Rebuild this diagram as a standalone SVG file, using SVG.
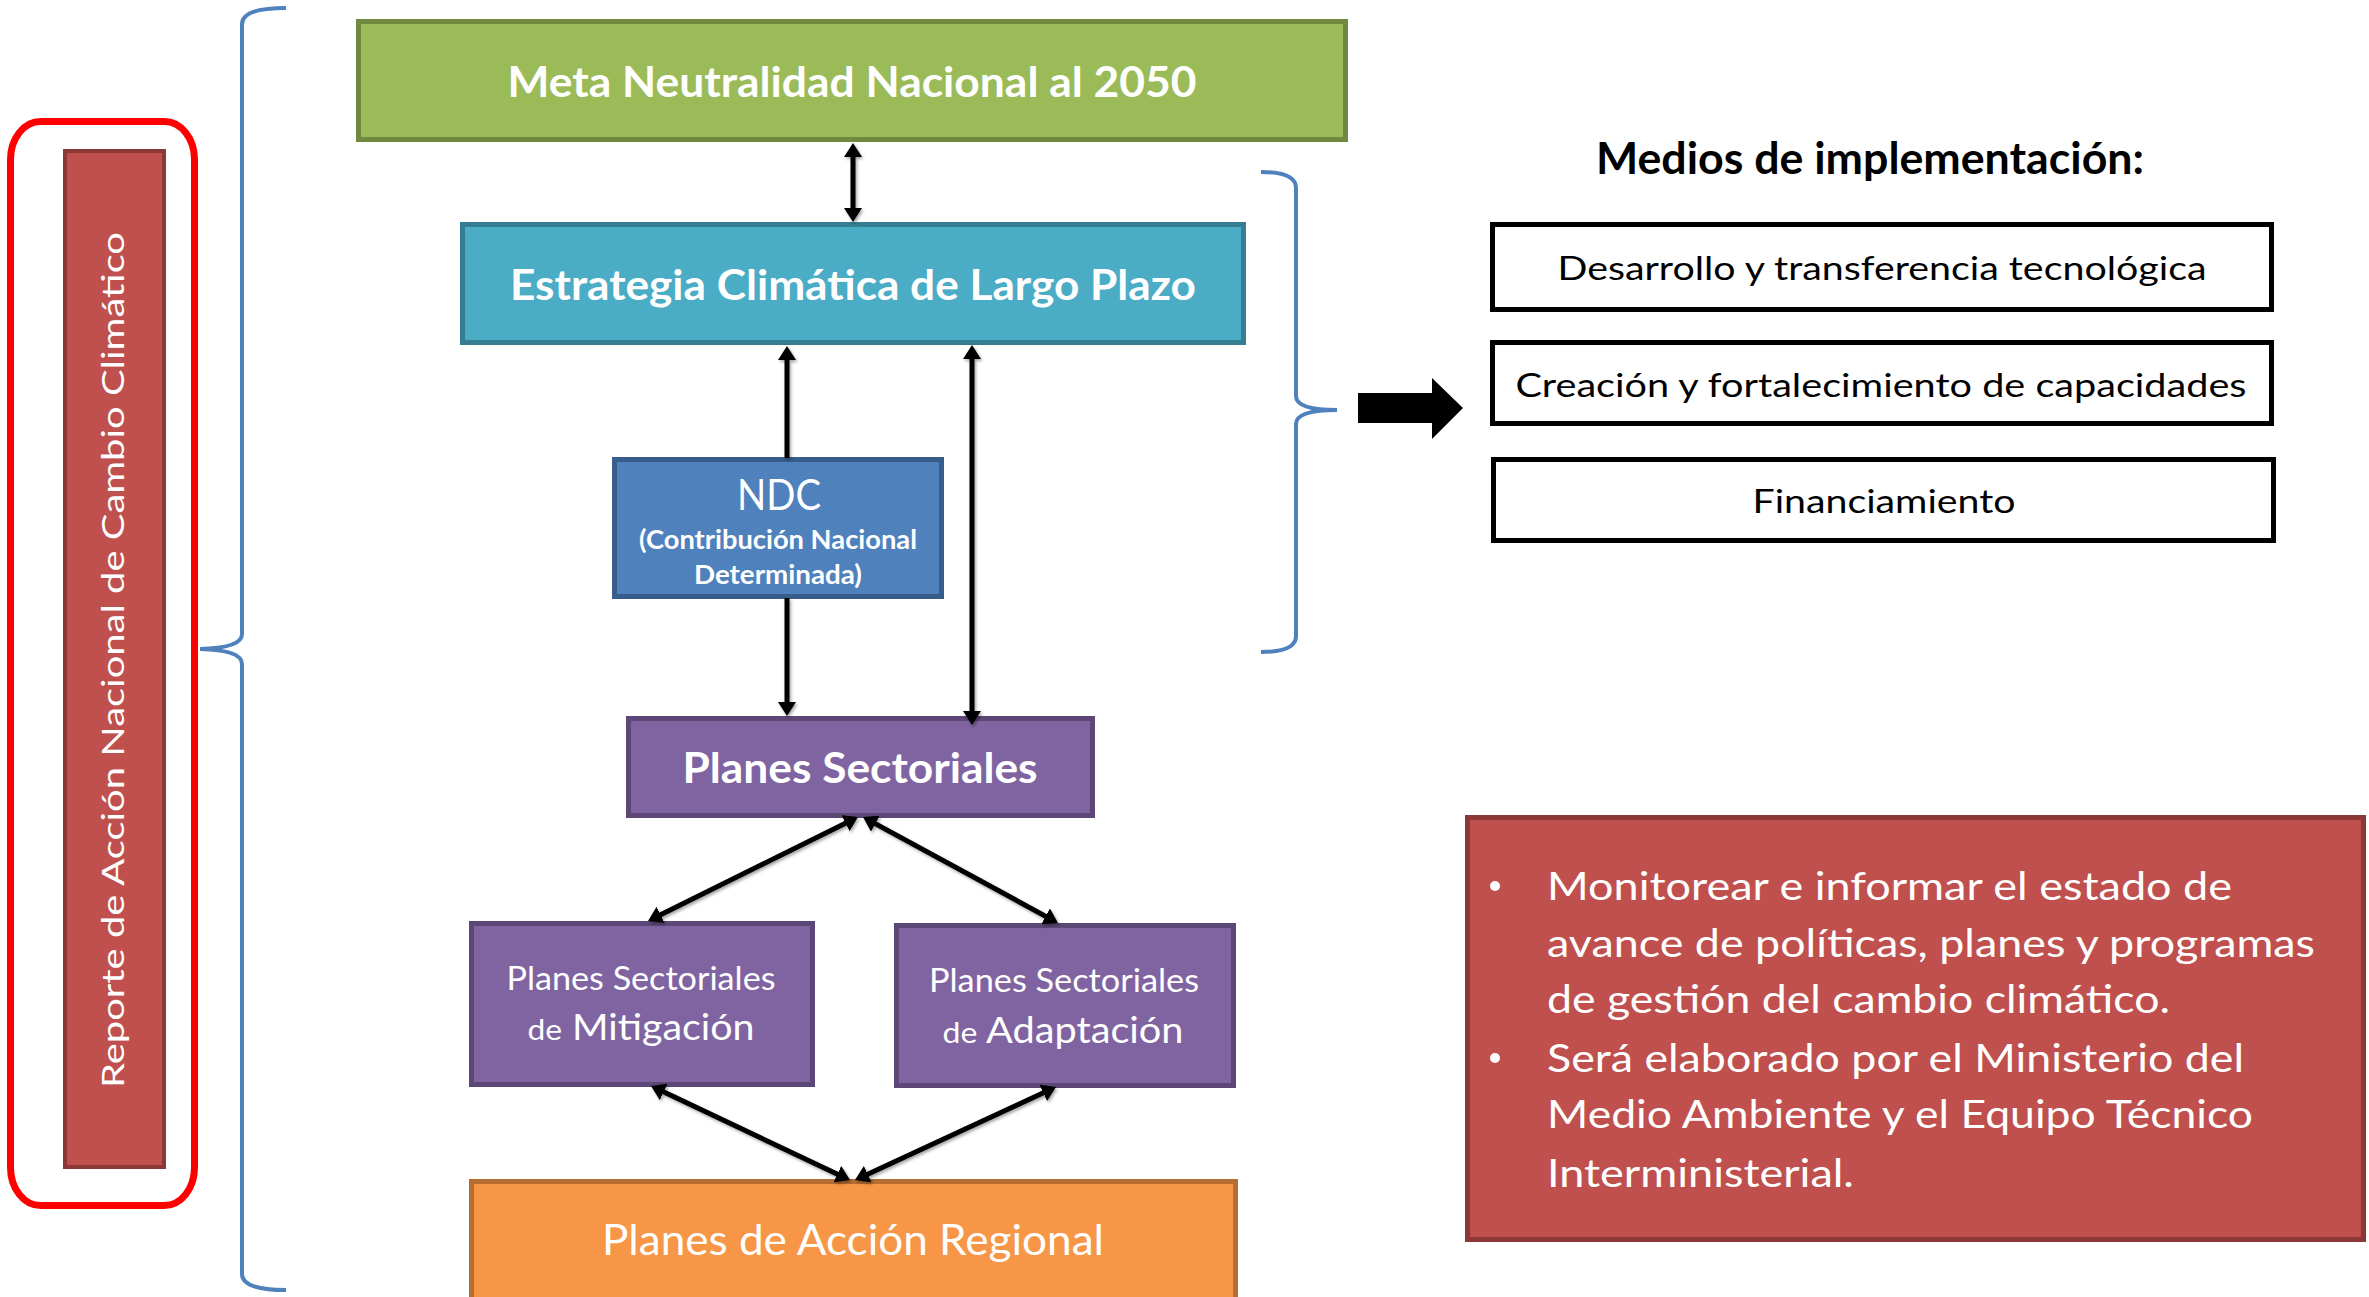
<svg xmlns="http://www.w3.org/2000/svg" width="2369" height="1297" viewBox="0 0 2369 1297">
  <style>
    text { font-family: Lato, "Open Sans", "Liberation Sans", sans-serif; }
    .w { fill: #FFFFFF; }
    .k { fill: #000000; }
    .b { font-weight: bold; }
    .mid { text-anchor: middle; }
    .box { stroke-width: 5; }
    .conn { stroke: #000; stroke-width: 5; fill: none; }
    .brace { stroke: #4F81BD; stroke-width: 4; fill: none; }
  </style>
  <defs>
    <marker id="ah" viewBox="0 0 14 18" refX="9" refY="9" markerWidth="14" markerHeight="18" markerUnits="userSpaceOnUse" orient="auto-start-reverse">
      <path d="M0,0 L14,9 L0,18 z" fill="#000"/>
    </marker>
    <filter id="sh" x="-20%" y="-20%" width="140%" height="140%">
      <feDropShadow dx="1.5" dy="2" stdDeviation="1.5" flood-color="#000" flood-opacity="0.35"/>
    </filter>
  </defs>
  <rect x="0" y="0" width="2369" height="1297" fill="#FFFFFF"/>

  <!-- Left: report -->
  <g id="reporte">
    <rect x="10.5" y="121.5" width="184" height="1084" rx="30" ry="38" fill="none" stroke="#FF0000" stroke-width="7"/>
    <rect x="65" y="151" width="99" height="1016" fill="#C0504D" stroke="#8C3836" stroke-width="4"/>
    <text class="w mid" font-size="31" transform="translate(124,660) rotate(-90)" textLength="856" lengthAdjust="spacingAndGlyphs">Reporte de Acción Nacional de Cambio Climático</text>
  </g>

  <g id="llave-izquierda">
    <path class="brace" d="M286,8 Q242,8 242,24 L242,634 Q242,648 200,649 Q242,650 242,664 L242,1274 Q242,1290 286,1290"/>
  </g>

  <g id="meta">
    <rect class="box" x="358.5" y="21.5" width="987" height="118" fill="#9BBB59" stroke="#71893F"/>
    <text class="w b mid" x="852" y="97" font-size="42" textLength="689" lengthAdjust="spacingAndGlyphs">Meta Neutralidad Nacional al 2050</text>
  </g>

  <g id="estrategia">
    <rect class="box" x="462.5" y="224.5" width="781" height="118" fill="#4BACC6" stroke="#357D91"/>
    <text class="w b mid" x="853" y="300" font-size="42" textLength="686" lengthAdjust="spacingAndGlyphs">Estrategia Climática de Largo Plazo</text>
  </g>

  <g id="ndc">
    <rect class="box" x="614.5" y="459.5" width="327" height="137" fill="#4F81BD" stroke="#385D8A"/>
    <text class="w mid" x="779" y="510" font-size="42" textLength="84" lengthAdjust="spacingAndGlyphs">NDC</text>
    <text class="w b mid" x="778" y="549" font-size="26" textLength="278" lengthAdjust="spacingAndGlyphs">(Contribución Nacional</text>
    <text class="w b mid" x="778" y="584" font-size="26" textLength="168" lengthAdjust="spacingAndGlyphs">Determinada)</text>
  </g>

  <g id="planes-sectoriales">
    <rect class="box" x="628.5" y="718.5" width="464" height="97" fill="#8064A2" stroke="#5C4776"/>
    <text class="w b mid" x="860" y="783" font-size="42" textLength="355" lengthAdjust="spacingAndGlyphs">Planes Sectoriales</text>
  </g>

  <g id="mitigacion">
    <rect class="box" x="471.5" y="923.5" width="341" height="161" fill="#8064A2" stroke="#5C4776"/>
    <text class="w mid" x="641" y="990" font-size="32" textLength="269" lengthAdjust="spacingAndGlyphs">Planes Sectoriales</text>
    <text class="w mid" x="641" y="1040" font-size="36" textLength="227" lengthAdjust="spacingAndGlyphs"><tspan font-size="29">de</tspan> Mitigación</text>
  </g>

  <g id="adaptacion">
    <rect class="box" x="896.5" y="925.5" width="337" height="160" fill="#8064A2" stroke="#5C4776"/>
    <text class="w mid" x="1064" y="992" font-size="32" textLength="270" lengthAdjust="spacingAndGlyphs">Planes Sectoriales</text>
    <text class="w mid" x="1063" y="1043" font-size="36" textLength="241" lengthAdjust="spacingAndGlyphs"><tspan font-size="29">de</tspan> Adaptación</text>
  </g>

  <g id="regional">
    <rect class="box" x="471.5" y="1181.5" width="764" height="130" fill="#F79646" stroke="#B66D31"/>
    <text class="w mid" x="853" y="1255" font-size="42" textLength="502" lengthAdjust="spacingAndGlyphs">Planes de Acción Regional</text>
  </g>

  <g id="llave-derecha">
    <path class="brace" d="M1261,172 Q1296,172 1296,188 L1296,396 Q1296,410 1337,410 Q1296,410 1296,424 L1296,636 Q1296,652 1261,652"/>
  </g>

  <g id="flecha-bloque">
    <polygon points="1358,393 1432,393 1432,378 1463,408 1432,439 1432,423 1358,423" fill="#000"/>
  </g>

  <g id="medios">
    <text class="k b mid" x="1870" y="174" font-size="43" textLength="548" lengthAdjust="spacingAndGlyphs">Medios de implementación:</text>
  </g>

  <g id="desarrollo">
    <rect class="box" x="1492.5" y="224.5" width="779" height="85" fill="#FFFFFF" stroke="#000"/>
    <text class="k mid" x="1882" y="280" font-size="32" textLength="649" lengthAdjust="spacingAndGlyphs">Desarrollo y transferencia tecnológica</text>
  </g>

  <g id="capacidades">
    <rect class="box" x="1492.5" y="342.5" width="779" height="81" fill="#FFFFFF" stroke="#000"/>
    <text class="k mid" x="1881" y="397" font-size="32" textLength="731" lengthAdjust="spacingAndGlyphs">Creación y fortalecimiento de capacidades</text>
  </g>

  <g id="financiamiento">
    <rect class="box" x="1493.5" y="459.5" width="780" height="81" fill="#FFFFFF" stroke="#000"/>
    <text class="k mid" x="1884" y="513" font-size="32" textLength="263" lengthAdjust="spacingAndGlyphs">Financiamiento</text>
  </g>

  <g id="descripcion">
    <rect class="box" x="1467.5" y="817.5" width="896" height="422" fill="#C0504D" stroke="#8C3836"/>
    <circle cx="1495" cy="886" r="5" fill="#FFFFFF"/>
    <circle cx="1495" cy="1058" r="5" fill="#FFFFFF"/>
    <text class="w" x="1547" y="900" font-size="39" textLength="685" lengthAdjust="spacingAndGlyphs">Monitorear e informar el estado de</text>
    <text class="w" x="1547" y="957" font-size="39" textLength="768" lengthAdjust="spacingAndGlyphs">avance de políticas, planes y programas</text>
    <text class="w" x="1547" y="1013" font-size="39" textLength="623" lengthAdjust="spacingAndGlyphs">de gestión del cambio climático.</text>
    <text class="w" x="1547" y="1072" font-size="39" textLength="697" lengthAdjust="spacingAndGlyphs">Será elaborado por el Ministerio del</text>
    <text class="w" x="1547" y="1128" font-size="39" textLength="706" lengthAdjust="spacingAndGlyphs">Medio Ambiente y el Equipo Técnico</text>
    <text class="w" x="1547" y="1187" font-size="39" textLength="307" lengthAdjust="spacingAndGlyphs">Interministerial.</text>
  </g>

  <g id="conectores" filter="url(#sh)">
    <line class="conn" x1="853" y1="148" x2="853" y2="217" marker-start="url(#ah)" marker-end="url(#ah)"/>
    <line class="conn" x1="787" y1="351" x2="787" y2="458" marker-start="url(#ah)"/>
    <line class="conn" x1="787" y1="598" x2="787" y2="711" marker-end="url(#ah)"/>
    <line class="conn" x1="972" y1="350" x2="972" y2="720" marker-start="url(#ah)" marker-end="url(#ah)"/>
    <line class="conn" x1="853.5" y1="819.2" x2="652.5" y2="918.8" marker-start="url(#ah)" marker-end="url(#ah)"/>
    <line class="conn" x1="867.4" y1="819.4" x2="1053.6" y2="920.6" marker-start="url(#ah)" marker-end="url(#ah)"/>
    <line class="conn" x1="655.5" y1="1088.1" x2="845.5" y2="1177.9" marker-start="url(#ah)" marker-end="url(#ah)"/>
    <line class="conn" x1="1051.5" y1="1089.1" x2="859.5" y2="1177.9" marker-start="url(#ah)" marker-end="url(#ah)"/>
  </g>
</svg>
